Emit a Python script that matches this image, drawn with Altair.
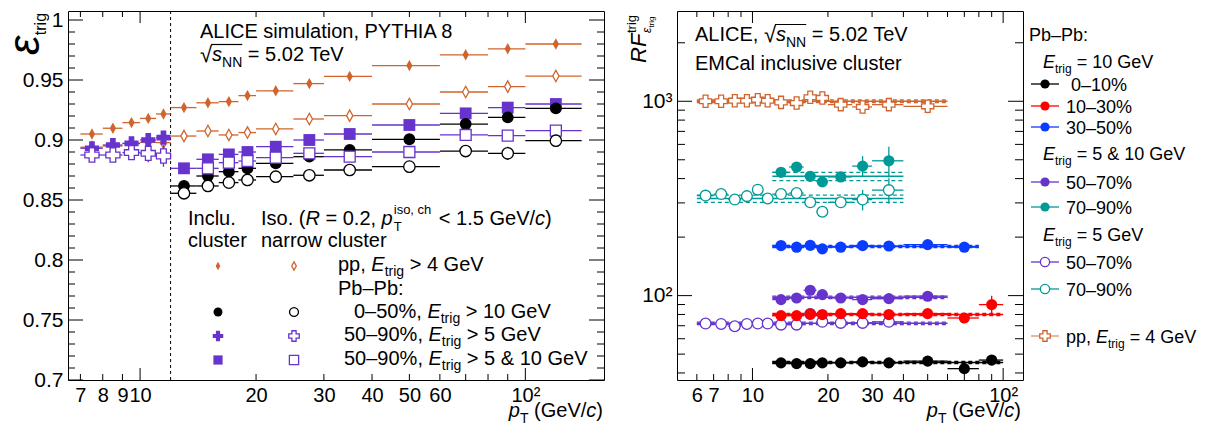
import altair as alt
import pandas as pd

FONT = "Liberation Sans"
ORANGE = "#d0642c"
PURPLE = "#6633cc"
TEAL = "#009a96"
BLUE = "#0a3cff"
RED = "#ff0000"
BLACK = "#000000"

# ---------------- Left panel data (trigger efficiency) ----------------
LOW_PT = [7.5, 8.5, 9.5, 10.5, 11.5]
LOW_LO = [7, 8, 9, 10, 11]
LOW_HI = [8, 9, 10, 11, 12]
HIGH_PT = [13, 15, 17, 19, 22.5, 27.5, 35, 50, 70, 90, 120]
HIGH_LO = [12, 14, 16, 18, 20, 25, 30, 40, 60, 80, 100]
HIGH_HI = [14, 16, 18, 20, 25, 30, 40, 60, 80, 100, 140]

PP_INCL = [0.905, 0.9098, 0.9145, 0.918, 0.9217,
           0.927, 0.931, 0.932, 0.937, 0.941, 0.947, 0.953, 0.962, 0.971, 0.976, 0.980]
PP_INCL_ERR = [0.001] * 16
PP_ISO = [0.894, 0.895, 0.897, 0.898, 0.8978,
          0.9033, 0.9075, 0.9042, 0.9062, 0.9092, 0.9175, 0.9203, 0.930, 0.940, 0.9445, 0.9533]
PP_ISO_ERR = [0.001] * 16
C050_INCL = [0.8617, 0.870, 0.8736, 0.8764, 0.8806, 0.8861, 0.8917, 0.9006, 0.9133, 0.9189, 0.9264]
C050_INCL_ERR = [0.001, 0.001, 0.001, 0.001, 0.001, 0.001, 0.0015, 0.0015, 0.002, 0.002, 0.003]
C050_ISO = [0.8556, 0.8617, 0.8645, 0.8667, 0.8694, 0.8706, 0.875, 0.8778, 0.8908, 0.8889, 0.8994]
C050_ISO_ERR = [0.001, 0.001, 0.001, 0.001, 0.001, 0.001, 0.0015, 0.002, 0.003, 0.0055, 0.005]
C5090_5_INCL = [0.8931, 0.8958, 0.8972, 0.900, 0.902]
C5090_5_INCL_ERR = [0.002, 0.003, 0.003, 0.004, 0.005]
C5090_5_ISO = [0.8875, 0.8875, 0.8895, 0.8889, 0.8867]
C5090_5_ISO_ERR = [0.003, 0.004, 0.0046, 0.0075, 0.009]
C5090_510_INCL = [0.8764, 0.8839, 0.888, 0.890, 0.8944, 0.900, 0.905, 0.9125, 0.9222, 0.927, 0.930]
C5090_510_INCL_ERR = [0.001] * 11
C5090_510_ISO = [0.8764, 0.8811, 0.8825, 0.8853, 0.8889, 0.8861, 0.890, 0.9042, 0.9036, 0.9078]
C5090_510_ISO_ERR = [0.001, 0.001, 0.001, 0.001, 0.001, 0.0015, 0.002, 0.002, 0.003, 0.003]

# ---------------- Right panel data (rejection factor) ----------------
R_PT = [6.5, 7.5, 8.5, 9.5, 10.5, 11.5, 13, 15, 17, 19, 22.5, 27.5, 35, 50, 70, 90]
R_LO = [6, 7, 8, 9, 10, 11, 12, 14, 16, 18, 20, 25, 30, 40, 60, 80]
R_HI = [7, 8, 9, 10, 11, 12, 14, 16, 18, 20, 25, 30, 40, 60, 80, 100]

PP_RF = [1000, 1000, 1007, 1007, 1019, 1007, 987, 979, 1049, 1040, 961, 935, 961, 942]
PP_RF_REL = [0.01, 0.01, 0.01, 0.01, 0.01, 0.01, 0.015, 0.015, 0.03, 0.03, 0.02, 0.03, 0.04, 0.08]
T7090_510 = [431, 459, 411, 385, 408, 464, 494]
T7090_510_REL = [0.03, 0.03, 0.04, 0.05, 0.05, 0.125, 0.18]
T7090_5 = [327, 333, 312, 325, 351, 316, 333, 337, 302, 270, 302, 312, 349]
T7090_5_REL = [0.02, 0.02, 0.02, 0.02, 0.02, 0.02, 0.03, 0.03, 0.05, 0.06, 0.05, 0.12, 0.15]
B3050 = [181, 177.5, 181.5, 174, 177.5, 181, 180, 183, 177.5]
B3050_REL = [0.01, 0.01, 0.01, 0.01, 0.01, 0.01, 0.01, 0.015, 0.04]
P5070_510 = [95.4, 97.2, 106.6, 101.2, 97.2, 95.4, 96.5, 99.3]
P5070_510_REL = [0.015, 0.015, 0.015, 0.015, 0.015, 0.015, 0.015, 0.05]
R1030 = [78.9, 78.9, 80.5, 79.9, 80.8, 80.8, 79.9, 80.8, 76.7, 89.9]
R1030_REL = [0.01, 0.01, 0.01, 0.01, 0.01, 0.01, 0.01, 0.01, 0.02, 0.11]
P5070_5 = [71.8, 71.5, 69.6, 71.5, 71.8, 71.8, 70.9, 70.9, 80.5, 73.3, 72.4, 72.4, 73.3]
P5070_5_REL = [0.01] * 12 + [0.03]
K010 = [45.1, 44.7, 44.7, 45.1, 45.1, 45.6, 45.1, 46.0, 42.1, 46.6]
K010_REL = [0.015] * 9 + [0.05]

# fits: pp, teal(5&10), teal(5), blue, purple(5&10), red, purple(5), black
FIT_VAL = [1000, 411, 316, 179, 98, 80, 72, 45.3]
FIT_DN = [985, 391, 302, 176.5, 96.5, 79, 71, 44.7]
FIT_UP = [1015, 431, 329, 181.5, 99.5, 81, 73, 45.9]
FIT_PTMIN = [6, 12, 6, 12, 12, 12, 6, 12]
FIT_PTMAX = [60, 40, 40, 80, 60, 100, 60, 100]
FIT_COL = [ORANGE, TEAL, TEAL, BLUE, PURPLE, RED, PURPLE, BLACK]

# ---------------- geometry ----------------
LW, LH = 536, 369
RW, RH = 346, 369
DUMMY = pd.DataFrame({"d": [0]})

xs_l = alt.Scale(type="log", domain=[6.5, 160], nice=False)
ys_l = alt.Scale(domain=[0.7, 1.0075], nice=False, zero=False)
xs_r = alt.Scale(type="log", domain=[5, 120], nice=False)
ys_r = alt.Scale(type="log", domain=[36.8, 2914], nice=False)

common_axis = dict(ticks=False, tickSize=0, domain=False, grid=False, labelOverlap=False,
                   labelFlush=False, title=None, labelFont=FONT, labelColor="black")
ax_xl = alt.Axis(values=[7, 8, 9, 10, 20, 30, 40, 50, 60, 100], format="~g",
                 labelExpr="datum.value == 100 ? '10²' : datum.label",
                 labelFontSize=20, labelPadding=5, **common_axis)
ax_yl = alt.Axis(values=[0.7, 0.75, 0.8, 0.85, 0.9, 0.95, 1.0], format=".2~f",
                 labelFontSize=21, labelPadding=5, **common_axis)
ax_xr = alt.Axis(values=[6, 7, 10, 20, 30, 40, 100], format="~g",
                 labelExpr="datum.value == 100 ? '10²' : datum.label",
                 labelFontSize=20, labelPadding=5, **common_axis)
ax_yr = alt.Axis(values=[100, 1000], labelExpr="datum.value == 100 ? '10²' : '10³'",
                 labelFontSize=21, labelPadding=5, **common_axis)

AW = {' ': 278, '%': 889, '&': 667, '(': 333, ')': 333, ',': 278, '.': 278, '/': 278, ':': 278,
      '<': 584, '=': 584, '>': 584, '–': 556, '√': 549, 'ε': 450,
      'A': 667, 'C': 722, 'E': 667, 'F': 611, 'G': 778, 'H': 722, 'I': 278, 'L': 556, 'M': 833,
      'N': 722, 'P': 667, 'R': 722, 'T': 611, 'V': 667, 'Y': 667,
      'a': 556, 'b': 556, 'c': 500, 'd': 556, 'e': 556, 'f': 278, 'g': 556, 'h': 556, 'i': 222,
      'k': 500, 'l': 222, 'm': 833, 'n': 556, 'o': 556, 'p': 556, 'r': 333, 's': 500, 't': 278,
      'u': 556, 'v': 500, 'w': 722, 'x': 500, 'y': 500}


def tw(s, size):
    return sum(AW.get(ch, 556) for ch in s) * size / 1000.0


def add_runs(rows, x, y, parts, angle=0, color="black"):
    cx = 0.0
    for text, size, italic, dy in parts:
        stripped = text.lstrip(" ")
        cx += tw(text[:len(text) - len(stripped)], size)
        if stripped.strip() != "":
            if angle == 0:
                rows.append(dict(px=x + cx, py=y + dy, t=stripped, s=size, it=italic, a=0, c=color))
            else:
                rows.append(dict(px=x + dy, py=y - cx, t=stripped, s=size, it=italic, a=270, c=color))
        cx += tw(stripped, size)
    return x + cx


def text_layers(rows):
    df = pd.DataFrame(rows)
    out = []
    for (it, a), g in df.groupby(["it", "a"]):
        out.append(alt.Chart(g.reset_index(drop=True)).mark_text(
            align="left", baseline="alphabetic", font=FONT,
            fontStyle="italic" if it else "normal", angle=int(a)).encode(
            x=alt.X("px:Q", scale=None, axis=None),
            y=alt.Y("py:Q", scale=None, axis=None),
            text="t:N",
            size=alt.Size("s:Q", scale=None, legend=None),
            color=alt.Color("c:N", scale=None, legend=None)))
    return out


def tick_layers(xs, ys, ax, ay, W, H, xmaj, xmin, ymaj, ymin, lx, ly):
    out = []
    for vals, L in ((xmaj, lx[0]), (xmin, lx[1])):
        df = pd.DataFrame({"v": vals})
        b = alt.Chart(df).mark_rule(color="black", strokeWidth=1)
        out.append(b.encode(x=alt.X("v:Q", scale=xs, axis=ax), y=alt.value(H), y2=alt.value(H - L)))
        out.append(b.encode(x=alt.X("v:Q", scale=xs, axis=ax), y=alt.value(0), y2=alt.value(L)))
    for vals, L in ((ymaj, ly[0]), (ymin, ly[1])):
        df = pd.DataFrame({"v": vals})
        b = alt.Chart(df).mark_rule(color="black", strokeWidth=1)
        out.append(b.encode(y=alt.Y("v:Q", scale=ys, axis=ay), x=alt.value(0), x2=alt.value(L)))
        out.append(b.encode(y=alt.Y("v:Q", scale=ys, axis=ay), x=alt.value(W), x2=alt.value(W - L)))
    return out


DIAMOND = "M0,-1L0.55,0L0,1L-0.55,0Z"


def series(pts, lo, hi, val, elo, ehi, xs, ys, ax, ay, color, shape, filled, size, sw=1.3, bw=1.3):
    df = pd.DataFrame(dict(pt=pts, lo=lo, hi=hi, val=val, elo=elo, ehi=ehi))
    X = lambda f: alt.X(f + ":Q", scale=xs, axis=ax)
    Y = lambda f: alt.Y(f + ":Q", scale=ys, axis=ay)
    hbar = alt.Chart(df).mark_rule(color=color, strokeWidth=bw).encode(x=X("lo"), x2="hi:Q", y=Y("val"))
    vbar = alt.Chart(df).mark_rule(color=color, strokeWidth=bw).encode(x=X("pt"), y=Y("elo"), y2="ehi:Q")
    mk = alt.Chart(df).mark_point(shape=shape, filled=True, fill=color if filled else "white",
                                  stroke=color, strokeWidth=0 if filled else sw,
                                  size=size, opacity=1).encode(x=X("pt"), y=Y("val"))
    return [hbar, vbar, mk]


def pix_point(x, y, color, shape, filled, size, sw=1.3):
    return alt.Chart(DUMMY).mark_point(shape=shape, filled=True, fill=color if filled else "white",
                                       stroke=color, strokeWidth=0 if filled else sw,
                                       size=size, opacity=1).encode(x=alt.value(x), y=alt.value(y))


def pix_rule(x1, x2, y1, y2, color="black", width=1, dash=None):
    kw = dict(color=color, strokeWidth=width)
    if dash:
        kw["strokeDash"] = dash
    return alt.Chart(DUMMY).mark_rule(**kw).encode(
        x=alt.value(x1), x2=alt.value(x2), y=alt.value(y1), y2=alt.value(y2))


# ================= LEFT PANEL =================
L = []
L.append(alt.Chart(DUMMY).mark_rect(opacity=0).encode(
    x=alt.value(-65), x2=alt.value(-64), y=alt.value(0), y2=alt.value(1)))
L += tick_layers(xs_l, ys_l, ax_xl, ax_yl, LW, LH,
                 [10, 100], [7, 8, 9, 20, 30, 40, 50, 60, 70, 80, 90],
                 [0.7, 0.75, 0.8, 0.85, 0.9, 0.95, 1.0],
                 [0.71, 0.72, 0.73, 0.74, 0.76, 0.77, 0.78, 0.79, 0.81, 0.82, 0.83, 0.84,
                  0.86, 0.87, 0.88, 0.89, 0.91, 0.92, 0.93, 0.94, 0.96, 0.97, 0.98, 0.99],
                 (12, 6), (15, 7))
L.append(alt.Chart(pd.DataFrame({"v": [12]})).mark_rule(color="black", strokeWidth=1, strokeDash=[3, 3]).encode(
    x=alt.X("v:Q", scale=xs_l, axis=ax_xl), y=alt.value(0), y2=alt.value(LH)))


def lo_hi(pt, lo, hi, val, err):
    return pt, lo, hi, val, [v - e for v, e in zip(val, err)], [v + e for v, e in zip(val, err)]


ALL_PT, ALL_LO, ALL_HI = LOW_PT + HIGH_PT, LOW_LO + HIGH_LO, LOW_HI + HIGH_HI
L += series(*lo_hi(ALL_PT, ALL_LO, ALL_HI, PP_ISO, PP_ISO_ERR), xs_l, ys_l, ax_xl, ax_yl, ORANGE, DIAMOND, False, 130)
L += series(*lo_hi(ALL_PT, ALL_LO, ALL_HI, PP_INCL, PP_INCL_ERR), xs_l, ys_l, ax_xl, ax_yl, ORANGE, DIAMOND, True, 130)
L += series(*lo_hi(HIGH_PT, HIGH_LO, HIGH_HI, C5090_510_INCL, C5090_510_INCL_ERR), xs_l, ys_l, ax_xl, ax_yl, PURPLE, "square", True, 140)
L += series(*lo_hi(HIGH_PT, HIGH_LO, HIGH_HI, C050_INCL, C050_INCL_ERR), xs_l, ys_l, ax_xl, ax_yl, BLACK, "circle", True, 140)
L += series(*lo_hi(HIGH_PT[1:], HIGH_LO[1:], HIGH_HI[1:], C5090_510_ISO, C5090_510_ISO_ERR), xs_l, ys_l, ax_xl, ax_yl, PURPLE, "square", False, 120)
L += series(*lo_hi(HIGH_PT, HIGH_LO, HIGH_HI, C050_ISO, C050_ISO_ERR), xs_l, ys_l, ax_xl, ax_yl, BLACK, "circle", False, 130)
L += series(*lo_hi(LOW_PT, LOW_LO, LOW_HI, C5090_5_INCL, C5090_5_INCL_ERR), xs_l, ys_l, ax_xl, ax_yl, PURPLE, "cross", True, 200)
L += series(*lo_hi(LOW_PT, LOW_LO, LOW_HI, C5090_5_ISO, C5090_5_ISO_ERR), xs_l, ys_l, ax_xl, ax_yl, PURPLE, "cross", False, 200)

# legend markers (left)
for x, filled in ((150, True), (226, False)):
    L.append(pix_point(x, 255, ORANGE, DIAMOND, filled, 70))
    L.append(pix_point(x, 301, BLACK, "circle", filled, 80))
    L.append(pix_point(x, 325, PURPLE, "cross", filled, 110))
    L.append(pix_point(x, 349, PURPLE, "square", filled, 85))

LT = []
add_runs(LT, 132, 27, [("ALICE simulation, PYTHIA 8", 20, False, 0)])
e = add_runs(LT, 132, 50, [("√", 22, False, 1)])
add_runs(LT, e, 50, [("s", 20, True, 0), ("NN", 14, False, 6), (" = 5.02 TeV", 20, False, 0)])
L.append(pix_rule(e - 1, e + tw("s", 20) + tw("NN", 14), 33.5, 33.5, width=1.2))

add_runs(LT, 120, 214, [("Inclu.", 20, False, 0)])
add_runs(LT, 120, 236, [("cluster", 20, False, 0)])
xp = add_runs(LT, 193, 214, [("Iso. (", 20, False, 0), ("R", 20, True, 0), (" = 0.2, ", 20, False, 0), ("p", 20, True, 0)])
add_runs(LT, xp + 1, 214, [("iso, ch", 13, False, -11)])
add_runs(LT, xp + 1, 214, [("T", 13, False, 6)])
add_runs(LT, xp + 3 + tw("iso, ch", 13), 214, [(" < 1.5 GeV/", 20, False, 0), ("c", 20, True, 0), (")", 20, False, 0)])
add_runs(LT, 193, 236, [("narrow cluster", 20, False, 0)])


def etrig(size=20, sub=14, dy=5):
    return [("E", size, True, 0), ("trig", sub, False, dy)]


add_runs(LT, 270, 260, [("pp, ", 20, False, 0)] + etrig() + [(" > 4 GeV", 20, False, 0)])
add_runs(LT, 270, 284, [("Pb–Pb:", 20, False, 0)])
add_runs(LT, 286, 307, [("0–50%, ", 20, False, 0)] + etrig() + [(" > 10 GeV", 20, False, 0)])
add_runs(LT, 276, 330, [("50–90%, ", 20, False, 0)] + etrig() + [(" > 5 GeV", 20, False, 0)])
add_runs(LT, 276, 354, [("50–90%, ", 20, False, 0)] + etrig() + [(" > 5 & 10 GeV", 20, False, 0)])

# axis titles (left)
xt_parts = [("p", 20, True, 0), ("T", 14, False, 6), (" (GeV/", 20, False, 0), ("c", 20, True, 0), (")", 20, False, 0)]
xt_w = sum(tw(t, s) for t, s, _, _ in xt_parts)
add_runs(LT, LW - 1 - xt_w, 406, xt_parts)
add_runs(LT, -29.5, 44, [("ε", 44, True, 0), ("trig", 16, False, 7)], angle=270)
L += text_layers(LT)

left = alt.layer(*L).properties(width=LW, height=LH)

# ================= RIGHT PANEL =================
R = []
R += tick_layers(xs_r, ys_r, ax_xr, ax_yr, RW, RH,
                 [10, 100], [6, 7, 8, 9, 20, 30, 40, 50, 60, 70, 80, 90],
                 [100, 1000],
                 [40, 50, 60, 70, 80, 90, 200, 300, 400, 500, 600, 700, 800, 900, 2000],
                 (12, 6), (15, 8))

for i in range(len(FIT_VAL)):
    df = pd.DataFrame({"a": [FIT_PTMIN[i]], "b": [FIT_PTMAX[i]], "v": [FIT_VAL[i]],
                       "d": [FIT_DN[i]], "u": [FIT_UP[i]]})
    X = alt.X("a:Q", scale=xs_r, axis=ax_xr)
    R.append(alt.Chart(df).mark_rule(color=FIT_COL[i], strokeWidth=1.5).encode(
        x=X, x2="b:Q", y=alt.Y("v:Q", scale=ys_r, axis=ax_yr)))
    for f in ("d", "u"):
        R.append(alt.Chart(df).mark_rule(color=FIT_COL[i], strokeWidth=1.3, strokeDash=[4, 3]).encode(
            x=X, x2="b:Q", y=alt.Y(f + ":Q", scale=ys_r, axis=ax_yr)))


def rser(start, vals, rel, color, shape, filled, size):
    n = len(vals)
    pt, lo, hi = R_PT[start:start + n], R_LO[start:start + n], R_HI[start:start + n]
    elo = [v * (1 - r) for v, r in zip(vals, rel)]
    ehi = [v * (1 + r) for v, r in zip(vals, rel)]
    return series(pt, lo, hi, vals, elo, ehi, xs_r, ys_r, ax_xr, ax_yr, color, shape, filled, size)


R += rser(0, PP_RF, PP_RF_REL, ORANGE, "cross", False, 150)
R += rser(0, T7090_5, T7090_5_REL, TEAL, "circle", False, 115)
R += rser(6, T7090_510, T7090_510_REL, TEAL, "circle", True, 125)
R += rser(6, B3050, B3050_REL, BLUE, "circle", True, 125)
R += rser(0, P5070_5, P5070_5_REL, PURPLE, "circle", False, 115)
R += rser(6, P5070_510, P5070_510_REL, PURPLE, "circle", True, 125)
R += rser(6, R1030, R1030_REL, RED, "circle", True, 125)
R += rser(6, K010, K010_REL, BLACK, "circle", True, 125)

# legend / labels (right side)
RT = []
e = add_runs(RT, 18, 30, [("ALICE, ", 20, False, 0), ("√", 22, False, 1)])
add_runs(RT, e, 30, [("s", 20, True, 0), ("NN", 14, False, 6), (" = 5.02 TeV", 20, False, 0)])
R.append(pix_rule(e - 1, e + tw("s", 20) + tw("NN", 14), 13.5, 13.5, width=1.2))
add_runs(RT, 18, 59, [("EMCal inclusive cluster", 20, False, 0)])

add_runs(RT, 352, 30, [("Pb–Pb:", 18, False, 0)])
add_runs(RT, 366, 57, etrig(18, 12, 5) + [(" = 10 GeV", 18, False, 0)])
add_runs(RT, 366, 149, etrig(18, 12, 5) + [(" = 5 & 10 GeV", 18, False, 0)])
add_runs(RT, 366, 230, etrig(18, 12, 5) + [(" = 5 GeV", 18, False, 0)])

LEG = [("0–10%", BLACK, "circle", True, 73, 394),
       ("10–30%", RED, "circle", True, 95, 389),
       ("30–50%", BLUE, "circle", True, 116, 389),
       ("50–70%", PURPLE, "circle", True, 171, 389),
       ("70–90%", TEAL, "circle", True, 196, 389),
       ("50–70%", PURPLE, "circle", False, 251, 389),
       ("70–90%", TEAL, "circle", False, 278, 389)]
for label, col, shp, fil, yy, tx in LEG:
    R.append(pix_rule(354, 382, yy, yy, color=col, width=1.3))
    R.append(pix_point(368, yy, col, shp, fil, 85))
    add_runs(RT, tx, yy + 6.5, [(label, 18, False, 0)])
R.append(pix_rule(354, 382, 325, 325, color="#e3a27d", width=1.5))
R.append(pix_point(368, 325, ORANGE, "cross", False, 110))
add_runs(RT, 389, 331.5, [("pp, ", 18, False, 0)] + etrig(18, 12, 5) + [(" = 4 GeV", 18, False, 0)])

# axis titles (right)
add_runs(RT, RW - 2 - xt_w, 406, xt_parts)
add_runs(RT, -31, 52, [("RF", 22, True, 0)], angle=270)
add_runs(RT, -41, 22, [("trig", 13, False, 0)], angle=270)
add_runs(RT, -26, 22, [("ε", 12, True, 0), ("trig", 8, False, 3)], angle=270)
R += text_layers(RT)

right = alt.layer(*R).properties(width=RW, height=RH)

chart = alt.hconcat(left, right, spacing=73, bounds="flush",
                    padding={"left": -6, "top": 0, "right": 0, "bottom": 0}).configure_view(
    stroke="black", strokeWidth=1).configure_axis(labelFont=FONT, labelColor="black")

chart.save("out.html", embed_options={"renderer": "svg", "actions": False})
